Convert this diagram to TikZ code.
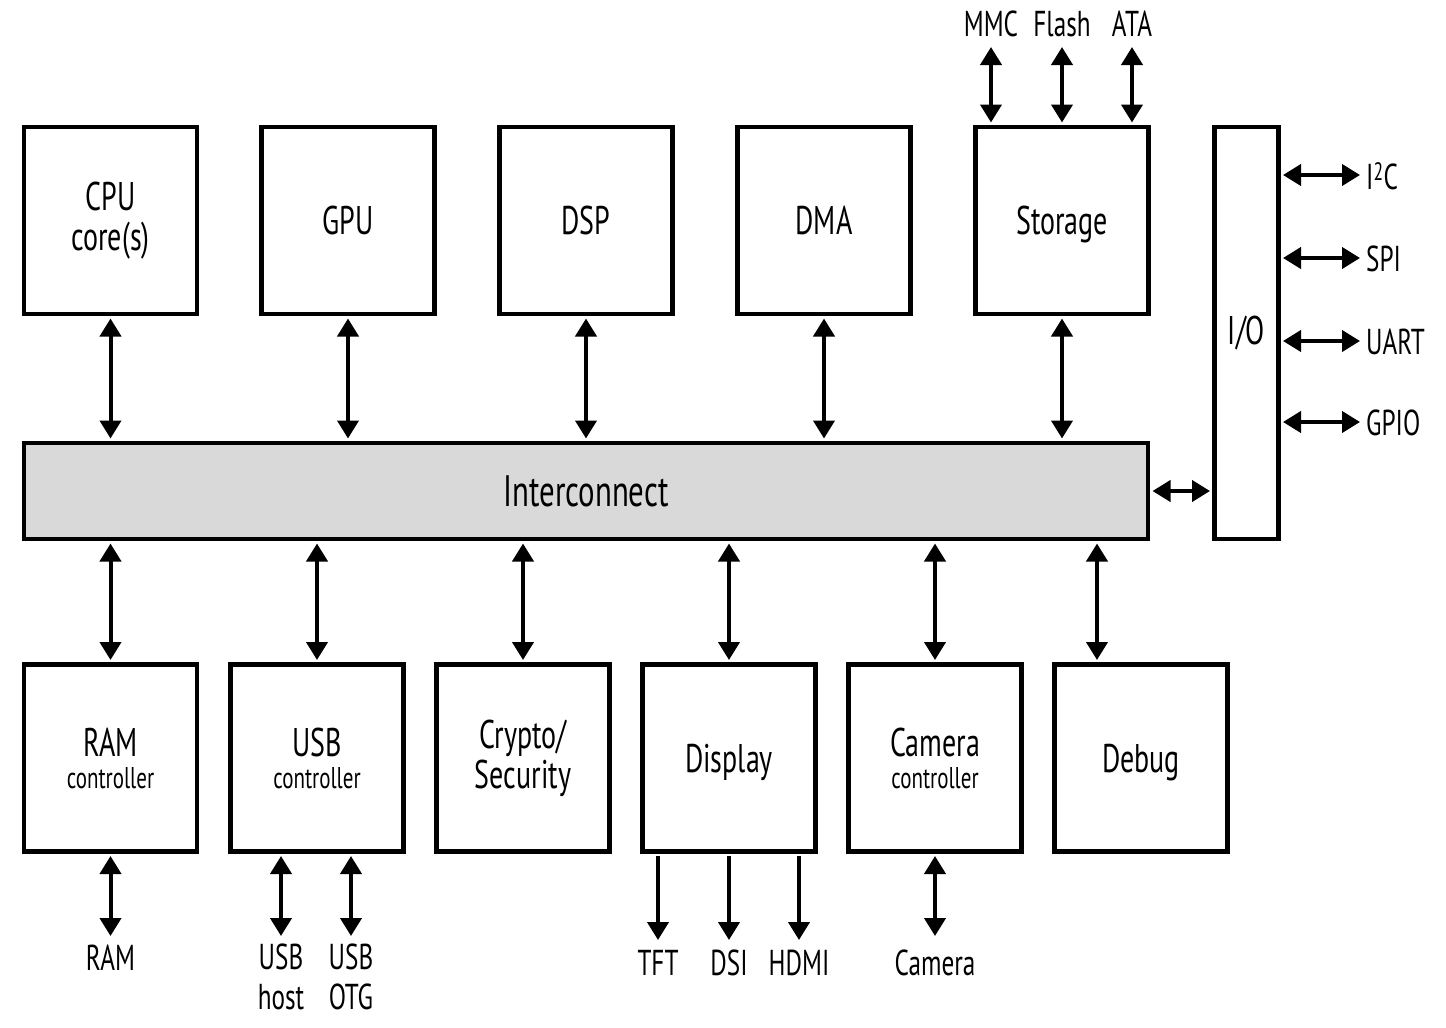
\documentclass[tikz,border=0pt]{standalone}
\usepackage{fontspec}
\setmainfont{PT Sans}[FakeStretch=0.7]
\usetikzlibrary{arrows.meta}
\definecolor{icgray}{HTML}{D9D9D9}
\begin{document}
\begin{tikzpicture}[x=1pt,y=-1pt,
  blk/.style={draw,line width=4.5pt,minimum width=173pt,minimum height=187pt,inner sep=0pt,align=center,font=\fontsize{40}{40}\selectfont},
  nodepth/.style={text depth=0pt},
  tipA/.tip={Triangle[width=21pt,length=18pt]},
  conn/.style={line width=4pt,tipA-tipA,shorten <=2.25pt,shorten >=2.25pt},
  oneway/.style={line width=4pt,-tipA,shorten <=2.25pt},
  lbl/.style={font=\fontsize{36}{40}\selectfont,inner sep=0pt,align=center}]
\useasboundingbox (0,0) rectangle (1446,1028);
\newcommand{\sm}[1]{{\fontsize{30}{30}\selectfont #1}}
% top row
\node[blk] (cpu) at (110.5,220.5) {CPU\\core(s)};
\node[blk] (gpu) at (348,220.5) {GPU};
\node[blk] (dsp) at (586,220.5) {DSP};
\node[blk] (dma) at (824,220.5) {DMA};
\node[blk,nodepth] (sto) at (1062,220.5) {Storage};
\node[blk,minimum width=64pt,minimum height=412pt] (io) at (1246.5,333) {I/O};
\node[blk,fill=icgray,minimum width=1124pt,minimum height=96pt,font=\fontsize{44}{44}\selectfont] (ic) at (586,491) {Interconnect};
% bottom row
\node[blk] (ram) at (110.5,758) {RAM\\[-8pt]\sm{controller}};
\node[blk] (usb) at (317,758) {USB\\[-8pt]\sm{controller}};
\node[blk] (cry) at (523,758) {Crypto/\\Security};
\node[blk,nodepth] (dis) at (729,758) {Display};
\node[blk] (cam) at (935,758) {Camera\\[-8pt]\sm{controller}};
\node[blk,nodepth] (dbg) at (1141,758) {Debug};
% top to interconnect
\foreach \b in {cpu,gpu,dsp,dma,sto}
  \draw[conn] (\b.south) -- (\b.south |- ic.north);
% bottom to interconnect
\foreach \b in {ram,usb,cry,dis,cam}
  \draw[conn] (\b.north) -- (\b.north |- ic.south);
\coordinate (dbx) at (1097,0);
\draw[conn] (dbx |- dbg.north) -- (dbx |- ic.south);
% interconnect to io
\draw[conn] (ic.east) -- (ic.east -| io.west);
% storage externals
\node[lbl,anchor=base] (mmc) at (991,36) {MMC};
\node[lbl,anchor=base] (fla) at (1062,36) {Flash};
\node[lbl,anchor=base] (ata) at (1132,36) {ATA};
\coordinate (mmce) at (991,47);
\coordinate (flae) at (1062,47);
\coordinate (atae) at (1132,47);
\foreach \l in {mmc,fla,ata}
  \draw[conn,shorten >=0pt] (\l e |- sto.north) -- (\l e);
% io externals
\foreach \n/\t/\y in {i2c/{I\textsuperscript{2}C}/175,spi/SPI/258,uart/UART/341,gpio/GPIO/422}{
  \coordinate (\n e) at (1360,\y);
  \node[lbl,anchor=west] (\n) at (1366,\y+1) {\t};
  \draw[conn,shorten >=0pt] (io.east |- \n e) -- (\n e);
}
% ram
\node[lbl,anchor=base] (ramx) at (110.5,970) {RAM};
\coordinate (ramxe) at (110.5,936);
\draw[conn,shorten >=0pt] (ram.south) -- (ramxe);
% usb
\node[lbl,anchor=north] (usbh) at (281,944) {USB\\host};
\node[lbl,anchor=north] (usbo) at (351,944) {USB\\OTG};
\coordinate (usbhe) at (281,936);
\coordinate (usboe) at (351,936);
\draw[conn,shorten >=0pt] (usbhe |- usb.south) -- (usbhe);
\draw[conn,shorten >=0pt] (usboe |- usb.south) -- (usboe);
% display
\node[lbl,anchor=base] (tft) at (658,975) {TFT};
\node[lbl,anchor=base] (dsi) at (729,975) {DSI};
\node[lbl,anchor=base] (hdmi) at (799,975) {HDMI};
\coordinate (tfte) at (658,940);
\coordinate (dsie) at (729,940);
\coordinate (hdmie) at (799,940);
\foreach \l in {tft,dsi,hdmi}
  \draw[oneway] (\l e |- dis.south) -- (\l e);
% camera
\node[lbl,anchor=base] (camx) at (935,975) {Camera};
\coordinate (camxe) at (935,936);
\draw[conn,shorten >=0pt] (cam.south) -- (camxe);
\end{tikzpicture}
\end{document}
